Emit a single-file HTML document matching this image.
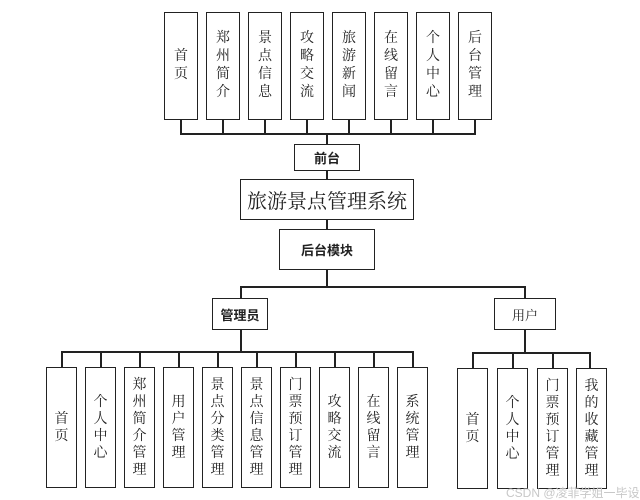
<!DOCTYPE html>
<html><head><meta charset="utf-8"><style>
body{margin:0;background:#fff;}
#c{position:relative;width:640px;height:500px;overflow:hidden;font-family:"Liberation Serif","Noto Serif CJK SC","Noto Sans CJK SC",serif;color:#222;}
.b{position:absolute;box-sizing:border-box;border:1.5px solid #222;background:#fff;display:flex;align-items:center;justify-content:center;text-align:center;}
.v{font-size:14px;}
.t{line-height:18px;}
.m{line-height:17px;}
.h{position:absolute;background:#222;height:1.5px;}
.w{position:absolute;background:#222;width:1.5px;}
.bold{font-family:"Liberation Sans","Noto Sans CJK SC",sans-serif;font-weight:bold;font-size:13px;}
</style></head><body><div id="c">
<!-- top boxes -->
<div class="b v t" style="left:164px;top:12px;width:34px;height:108px">首<br>页</div>
<div class="b v t" style="left:206px;top:12px;width:34px;height:108px">郑<br>州<br>简<br>介</div>
<div class="b v t" style="left:248px;top:12px;width:34px;height:108px">景<br>点<br>信<br>息</div>
<div class="b v t" style="left:290px;top:12px;width:34px;height:108px">攻<br>略<br>交<br>流</div>
<div class="b v t" style="left:332px;top:12px;width:34px;height:108px">旅<br>游<br>新<br>闻</div>
<div class="b v t" style="left:374px;top:12px;width:34px;height:108px">在<br>线<br>留<br>言</div>
<div class="b v t" style="left:416px;top:12px;width:34px;height:108px">个<br>人<br>中<br>心</div>
<div class="b v t" style="left:458px;top:12px;width:34px;height:108px">后<br>台<br>管<br>理</div>
<div class="w" style="left:180px;top:119px;height:15px"></div>
<div class="w" style="left:222px;top:119px;height:15px"></div>
<div class="w" style="left:264px;top:119px;height:15px"></div>
<div class="w" style="left:306px;top:119px;height:15px"></div>
<div class="w" style="left:348px;top:119px;height:15px"></div>
<div class="w" style="left:390px;top:119px;height:15px"></div>
<div class="w" style="left:432px;top:119px;height:15px"></div>
<div class="w" style="left:474px;top:119px;height:15px"></div>
<div class="h" style="left:180px;top:133px;width:296px"></div>
<div class="w" style="left:326px;top:133px;height:96px"></div>
<div class="b bold" style="left:294px;top:144px;width:66px;height:27px">前台</div>
<div class="b" style="left:240px;top:179px;width:174px;height:41px;font-size:20px">旅游景点管理系统</div>
<div class="b bold" style="left:279px;top:229px;width:96px;height:41px">后台模块</div>
<div class="w" style="left:326px;top:269px;height:19px"></div>
<div class="h" style="left:240px;top:286px;width:286px"></div>
<div class="w" style="left:240px;top:286px;height:12px"></div>
<div class="w" style="left:524px;top:286px;height:12px"></div>
<div class="b bold" style="left:212px;top:298px;width:56px;height:32px">管理员</div>
<div class="b" style="left:494px;top:298px;width:62px;height:32px;font-size:13px">用户</div>
<div class="w" style="left:240px;top:329px;height:23px"></div>
<div class="w" style="left:524px;top:329px;height:24px"></div>
<!-- admin -->
<div class="h" style="left:61px;top:351px;width:352px"></div>
<div class="w" style="left:61px;top:351px;height:16px"></div>
<div class="w" style="left:100px;top:351px;height:16px"></div>
<div class="w" style="left:139px;top:351px;height:16px"></div>
<div class="w" style="left:178px;top:351px;height:16px"></div>
<div class="w" style="left:217px;top:351px;height:16px"></div>
<div class="w" style="left:256px;top:351px;height:16px"></div>
<div class="w" style="left:295px;top:351px;height:16px"></div>
<div class="w" style="left:334px;top:351px;height:16px"></div>
<div class="w" style="left:373px;top:351px;height:16px"></div>
<div class="w" style="left:412px;top:351px;height:16px"></div>
<div class="b v m" style="left:46px;top:367px;width:31px;height:121px">首<br>页</div>
<div class="b v m" style="left:85px;top:367px;width:31px;height:121px">个<br>人<br>中<br>心</div>
<div class="b v m" style="left:124px;top:367px;width:31px;height:121px">郑<br>州<br>简<br>介<br>管<br>理</div>
<div class="b v m" style="left:163px;top:367px;width:31px;height:121px">用<br>户<br>管<br>理</div>
<div class="b v m" style="left:202px;top:367px;width:31px;height:121px">景<br>点<br>分<br>类<br>管<br>理</div>
<div class="b v m" style="left:241px;top:367px;width:31px;height:121px">景<br>点<br>信<br>息<br>管<br>理</div>
<div class="b v m" style="left:280px;top:367px;width:31px;height:121px">门<br>票<br>预<br>订<br>管<br>理</div>
<div class="b v m" style="left:319px;top:367px;width:31px;height:121px">攻<br>略<br>交<br>流</div>
<div class="b v m" style="left:358px;top:367px;width:31px;height:121px">在<br>线<br>留<br>言</div>
<div class="b v m" style="left:397px;top:367px;width:31px;height:121px">系<br>统<br>管<br>理</div>
<!-- user -->
<div class="h" style="left:472px;top:352px;width:118px"></div>
<div class="w" style="left:472px;top:352px;height:16px"></div>
<div class="w" style="left:512px;top:352px;height:16px"></div>
<div class="w" style="left:552px;top:352px;height:16px"></div>
<div class="w" style="left:589px;top:352px;height:16px"></div>
<div class="b v m" style="left:457px;top:368px;width:31px;height:121px">首<br>页</div>
<div class="b v m" style="left:497px;top:368px;width:31px;height:121px">个<br>人<br>中<br>心</div>
<div class="b v m" style="left:537px;top:368px;width:31px;height:121px">门<br>票<br>预<br>订<br>管<br>理</div>
<div class="b v m" style="left:576px;top:368px;width:31px;height:121px">我<br>的<br>收<br>藏<br>管<br>理</div>
<div style="position:absolute;left:506px;top:484px;font-size:12px;color:#c8c8c8;font-family:'Liberation Sans','Noto Sans CJK SC',sans-serif;white-space:nowrap">CSDN @凌菲学姐一毕设</div>
</div></body></html>
